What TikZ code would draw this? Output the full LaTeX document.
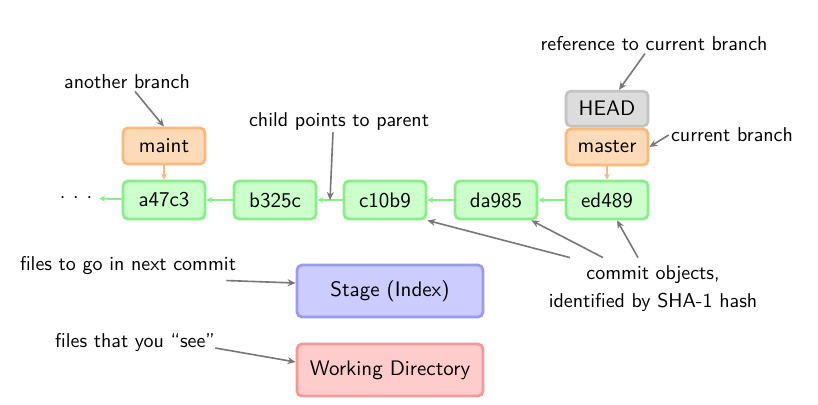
\documentclass[tikz,border=0pt]{standalone}
\usetikzlibrary{arrows.meta}
\definecolor{cmtfill}{HTML}{CCFFCC}
\definecolor{cmtdraw}{HTML}{88EE88}
\definecolor{brfill}{HTML}{FDDBB8}
\definecolor{brdraw}{HTML}{F7B97C}
\definecolor{headfill}{HTML}{DCDCDC}
\definecolor{headdraw}{HTML}{C4C4C4}
\definecolor{stfill}{HTML}{CCCCFF}
\definecolor{stdraw}{HTML}{9A9AEE}
\definecolor{wdfill}{HTML}{FFCCCC}
\definecolor{wddraw}{HTML}{F09A9A}
\definecolor{notegray}{HTML}{777777}

\begin{document}
\begin{tikzpicture}[x=0.5pt, y=-0.5pt,
  every node/.style={font=\sffamily},
  box/.style={rectangle, rounded corners=2.5pt, line width=1.4pt, inner sep=0pt,
              font=\sffamily\fontsize{10.5}{13}\selectfont},
  cmt/.style={box, draw=cmtdraw, fill=cmtfill, minimum width=41pt, minimum height=19pt},
  br/.style={box, draw=brdraw, fill=brfill, minimum width=41pt, minimum height=18pt},
  hd/.style={box, draw=headdraw, fill=headfill, minimum width=41pt, minimum height=17.5pt},
  area/.style={box, minimum width=93pt, minimum height=26pt},
  note/.style={font=\sffamily\fontsize{10}{14}\selectfont, align=center, inner sep=1pt},
  link/.style={-{Stealth[length=3pt, width=3pt]}, line width=1pt, cmtdraw},
  brlink/.style={-{Stealth[length=3pt, width=3pt]}, line width=1pt, brdraw},
  ptr/.style={-{Stealth[length=4pt, width=3.5pt]}, line width=0.8pt, notegray}]
  \useasboundingbox (0,0) rectangle (818,404);
  % commit chain
  \node[cmt] (a47c3) at (164,200) {a47c3};
  \node[cmt] (b325c) at (275,200) {b325c};
  \node[cmt] (c10b9) at (385,200) {c10b9};
  \node[cmt] (da985) at (496,200) {da985};
  \node[cmt] (ed489) at (607,200) {ed489};
  \node (dots) at (76,198) {$\cdot\,\cdot\,\cdot$};
  \draw[link] (a47c3) -- (dots);
  \draw[link] (c10b9) -- coordinate[pos=.5] (bc) (b325c);
  \draw[link] (b325c) -- (a47c3);
  \draw[link] (da985) -- (c10b9);
  \draw[link] (ed489) -- (da985);
  % branches
  \node[br] (maint) at (164,146) {maint};
  \node[br] (master) at (607,147) {master};
  \node[hd, anchor=south] (head) at (master.north) {HEAD};
  \draw[brlink] (maint) -- (a47c3);
  \draw[brlink] (master) -- (ed489);
  % stage and working dir
  \node[area, draw=stdraw, fill=stfill] (stage) at (390,291) {Stage (Index)};
  \node[area, draw=wddraw, fill=wdfill] (wdir) at (390,370) {Working Directory};
  % notes
  \node[note] (n-other) at (127,82) {another branch};
  \node[note] (n-child) at (339,121) {child points to parent};
  \node[note] (n-ref) at (654,44) {reference to current branch};
  \node[note] (n-cur) at (732,135) {current branch};
  \node[note] (n-stage) at (128,265) {files to go in next commit};
  \node[note] (n-wdir) at (135,342) {files that you ``see''};
  \node[note] (n-obj) at (653,289) {commit objects,\\identified by SHA-1 hash};
  \draw[ptr] (n-other.south) ++(8,0) -- (maint.north);
  \draw[ptr] (n-child.south) ++(-6,0) -- (bc);
  \draw[ptr] (n-ref.south) ++(-9,0) -- ([xshift=6pt]head.north);
  \draw[ptr] (n-cur.west) -- (master.east);
  \draw[ptr] (n-stage.south east) ++(-12,4) -- ([yshift=4pt]stage.west);
  \draw[ptr] (n-wdir.east) ++(-2,6) -- ([yshift=4pt]wdir.west);
  \draw[ptr] (n-obj.north) ++(-83,-6) -- (c10b9.south east);
  \draw[ptr] (n-obj.north) ++(-50,-6) -- ([xshift=-3.5pt]da985.south east);
  \draw[ptr] (n-obj.north) ++(-15,-6) -- ([xshift=5pt]ed489.south);
\end{tikzpicture}
\end{document}
